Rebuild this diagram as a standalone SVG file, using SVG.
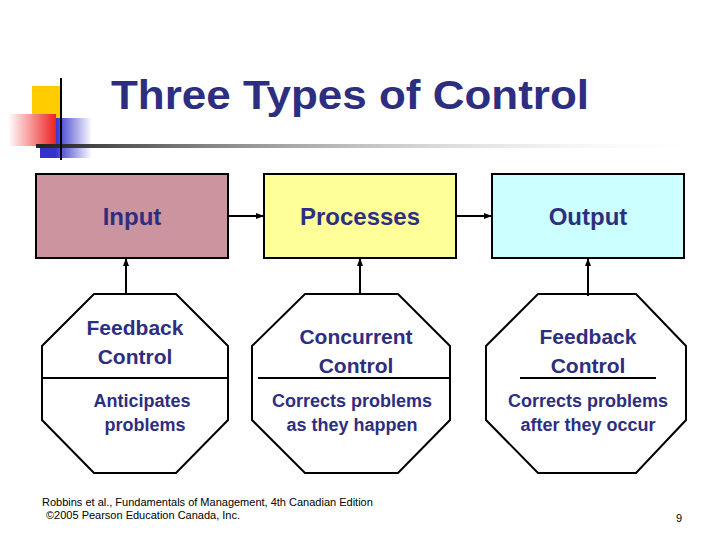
<svg xmlns="http://www.w3.org/2000/svg" width="720" height="540" viewBox="0 0 720 540">
<defs>
<style>
.t{font-family:"Liberation Sans",Arial,sans-serif;fill:#2e2e80;text-anchor:middle;font-weight:bold}
.b{stroke:#000;stroke-width:2}
.o{fill:#fff;stroke:#000;stroke-width:2}
.c{stroke:#000;stroke-width:2;fill:none;marker-end:url(#a)}
</style>
<marker id="a" markerWidth="8" markerHeight="8" refX="7" refY="4" orient="auto" markerUnits="userSpaceOnUse"><path d="M0,1 L8,4 L0,7 Z" fill="#000"/></marker>
<linearGradient id="g" x1="0" x2="1"><stop offset="0" stop-color="#222"/><stop offset="1" stop-color="#fff" stop-opacity="0"/></linearGradient>
<linearGradient id="r" x1="0" x2="1"><stop offset="0" stop-color="#fff"/><stop offset="1" stop-color="#ee2222"/></linearGradient>
<linearGradient id="bl" x1="0" x2="1"><stop offset="0.3" stop-color="#3333cc"/><stop offset="1" stop-color="#3333cc" stop-opacity="0"/></linearGradient>
</defs>
<g id="decor">
<rect x="32" y="86" width="30" height="34" fill="#ffcc00"/>
<rect x="40" y="118" width="52" height="40" fill="url(#bl)"/>
<rect x="8" y="114" width="48" height="32" fill="url(#r)"/>
<rect x="36" y="144" width="684" height="4" fill="url(#g)"/>
<line x1="61" y1="78" x2="61" y2="160" stroke="#000" stroke-width="2"/>
</g>
<text class="t" x="350" y="109" font-size="40" textLength="478" lengthAdjust="spacingAndGlyphs">Three Types of Control</text>
<g id="input"><rect x="36" y="174" width="192" height="84" fill="#cc949f" class="b"/><text class="t" x="132" y="225" font-size="24" font-weight="normal">Input</text></g>
<g id="processes"><rect x="264" y="174" width="192" height="84" fill="#ffff99" class="b"/><text class="t" x="360" y="225" font-size="24">Processes</text></g>
<g id="output"><rect x="492" y="174" width="192" height="84" fill="#ccffff" class="b"/><text class="t" x="588" y="225" font-size="24">Output</text></g>
<g id="oct1"><polygon class="o" points="94,294 176,294 228,346 228,420 176,473 94,473 42,420 42,346"/><line x1="42" y1="378" x2="228" y2="378" class="b"/>
<text class="t" x="135" y="335" font-size="21">Feedback</text><text class="t" x="135" y="364" font-size="21">Control</text>
<text class="t" x="142" y="407" font-size="18">Anticipates</text><text class="t" x="145" y="431" font-size="18">problems</text></g>
<g id="oct2"><polygon class="o" points="305,294 398,294 450,346 450,420 398,473 305,473 252,420 252,346"/><line x1="258" y1="378" x2="450" y2="378" class="b"/>
<text class="t" x="356" y="344" font-size="21">Concurrent</text><text class="t" x="356" y="373" font-size="21">Control</text>
<text class="t" x="352" y="407" font-size="18">Corrects problems</text><text class="t" x="352" y="431" font-size="18">as they happen</text></g>
<g id="oct3"><polygon class="o" points="538,294 636,294 686,346 686,420 636,473 538,473 486,420 486,346"/><line x1="520" y1="378" x2="656" y2="378" class="b"/>
<text class="t" x="588" y="344" font-size="21">Feedback</text><text class="t" x="588" y="373" font-size="21">Control</text>
<text class="t" x="588" y="407" font-size="18">Corrects problems</text><text class="t" x="588" y="431" font-size="18">after they occur</text></g>
<g id="connectors">
<line class="c" x1="229" y1="216" x2="263" y2="216"/>
<line class="c" x1="457" y1="216" x2="491" y2="216"/>
<line class="c" x1="126" y1="294" x2="126" y2="259"/>
<line class="c" x1="360" y1="294" x2="360" y2="259"/>
<line class="c" x1="588" y1="296" x2="588" y2="259"/>
</g>
<text x="42" y="506" font-family="Liberation Sans,Arial,sans-serif" font-size="11">Robbins et al., Fundamentals of Management, 4th Canadian Edition</text>
<text x="46" y="519" font-family="Liberation Sans,Arial,sans-serif" font-size="11">©2005 Pearson Education Canada, Inc.</text>
<text x="679" y="522" font-family="Liberation Sans,Arial,sans-serif" font-size="11" text-anchor="middle">9</text>
</svg>
